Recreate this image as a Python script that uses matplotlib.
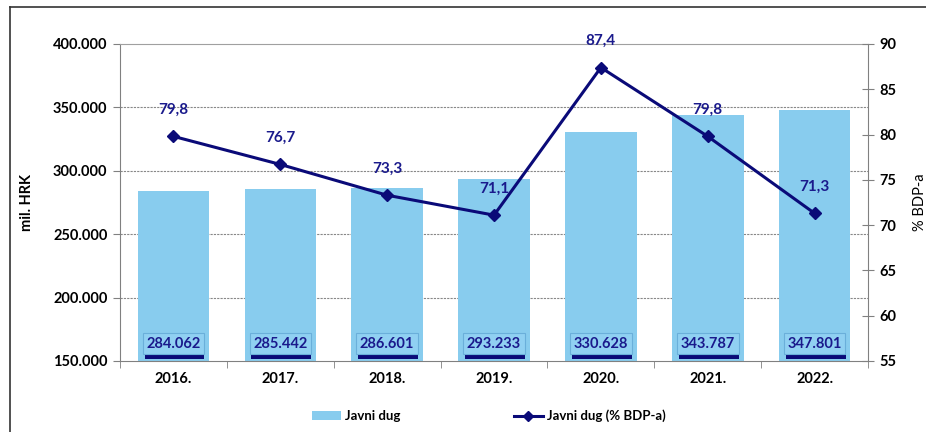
import matplotlib.pyplot as plt
from matplotlib.lines import Line2D
from matplotlib.patches import Rectangle
import numpy as np

plt.rcParams['font.family'] = ['Lato', 'DejaVu Sans']

years = ['2016.', '2017.', '2018.', '2019.', '2020.', '2021.', '2022.']
debt = [284062, 285442, 286601, 293233, 330628, 343787, 347801]
debt_labels = ['284.062', '285.442', '286.601', '293.233', '330.628', '343.787', '347.801']
debt_gdp = [79.8, 76.7, 73.3, 71.1, 87.4, 79.8, 71.3]
left_ticks = [150000, 200000, 250000, 300000, 350000, 400000]
left_tick_labels = ['150.000', '200.000', '250.000', '300.000', '350.000', '400.000']
right_ticks = [55, 60, 65, 70, 75, 80, 85, 90]

bar_color = '#88CCEE'
navy = '#0A0A78'
label_color = '#1A1A8C'
axis_gray = '#808080'

fig = plt.figure(figsize=(9.26, 4.32), dpi=100)
ax = fig.add_axes([0.1296, 0.1644, 0.8078, 0.7338])
x = np.arange(len(years))

ax.set_ylim(150000, 400000)
ax.set_xlim(-0.5, len(years) - 0.5)
ax.set_yticks(left_ticks)
ax.set_yticklabels(left_tick_labels)
for t in left_ticks[1:-1]:
    ax.axhline(t, color='#888888', lw=0.8, ls=(0, (2, 1)), zorder=0)

bars = ax.bar(x, debt, width=0.67, color=bar_color, zorder=2, label='Javni dug')

# value boxes at the bottom of the bars, with a dark shadow strip below
for i, lbl in enumerate(debt_labels):
    ax.add_patch(Rectangle((x[i] - 0.27, 151800), 0.56, 5600, facecolor=navy,
                           edgecolor='none', zorder=3))
    ax.annotate(lbl, (x[i], 150000), xytext=(0, 7.5), textcoords='offset points',
                ha='center', va='bottom', fontsize=10.5, fontweight='bold',
                color=label_color,
                bbox=dict(boxstyle='square,pad=0.25', fc='#90D0F2', ec='#6AAFDA', lw=0.8),
                zorder=4)

ax.set_xticks(x)
ax.set_xticklabels(years, fontsize=10.5, fontweight='bold')
ax.set_xticks(np.arange(-0.5, len(years), 1), minor=True)
ax.tick_params(axis='x', which='major', length=0, pad=8)
ax.tick_params(axis='x', which='minor', length=5, color=axis_gray, direction='out')
ax.tick_params(axis='y', length=5, color=axis_gray, labelsize=10.5, pad=4)
for lab in ax.get_yticklabels():
    lab.set_fontweight('bold')
ax.set_ylabel('mil. HRK', fontsize=10.5, fontweight='bold', labelpad=14)

for side in ['left', 'bottom', 'right']:
    ax.spines[side].set_color(axis_gray)
ax.spines['top'].set_color('#A0A0A0')

ax2 = ax.twinx()
ax2.set_ylim(55, 90)
ax2.set_yticks(right_ticks)
ax2.tick_params(axis='y', length=8, direction='inout', color=axis_gray, labelsize=10.5, pad=4)
for lab in ax2.get_yticklabels():
    lab.set_fontweight('bold')
ax2.set_ylabel('% BDP-a', fontsize=10.5, labelpad=12)
for side in ['left', 'bottom', 'right', 'top']:
    ax2.spines[side].set_visible(False)

ax2.plot(x, debt_gdp, color=navy, lw=2.2, marker='D', markersize=6, zorder=5,
         label='Javni dug (% BDP-a)')
for i, v in enumerate(debt_gdp):
    ax2.annotate(f'{v:.1f}'.replace('.', ','), (x[i], v), xytext=(0, 14),
                 textcoords='offset points', ha='center', va='bottom',
                 fontsize=11, fontweight='bold', color=label_color)

handles = [bars, Line2D([], [], color=navy, lw=2.2, marker='D', markersize=5)]
fig.legend(handles, ['Javni dug', 'Javni dug (% BDP-a)'], loc='center',
           bbox_to_anchor=(0.528, 0.037), ncol=2, frameon=False,
           columnspacing=8.6, handlelength=2.2, handletextpad=0.3,
           prop={'weight': 'bold', 'size': 9.5})

# frame of the original figure (left and top edges visible)
fig.add_artist(Line2D([0.011, 0.011], [0, 0.984], color='#333333', lw=1.2))
fig.add_artist(Line2D([0.011, 1.0], [0.984, 0.984], color='#333333', lw=1.2))

fig.savefig('out.png', dpi=100)
